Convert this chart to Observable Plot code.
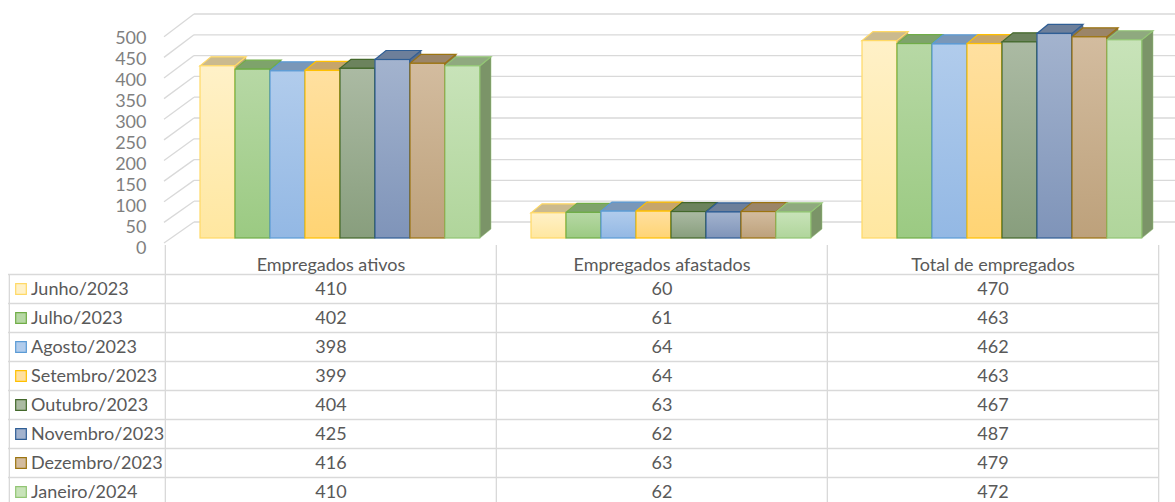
<!DOCTYPE html>
<html><head><meta charset="utf-8">
<script src="https://cdn.jsdelivr.net/npm/d3@7"></script>
<script src="https://cdn.jsdelivr.net/npm/@observablehq/plot@0.6"></script>
<style>
body{margin:0;background:#fff;}
#chart svg{display:block;}
#chart svg.tbl{margin-top:-12px;position:relative;}
</style></head><body><div id="chart"></div>
<script>
const categories = ["Empregados ativos", "Empregados afastados", "Total de empregados"];
const months = ["Junho/2023", "Julho/2023", "Agosto/2023", "Setembro/2023", "Outubro/2023", "Novembro/2023", "Dezembro/2023", "Janeiro/2024"];
const ativos = [410, 402, 398, 399, 404, 425, 416, 410];
const afastados = [60, 61, 64, 64, 63, 62, 63, 62];
const total = [470, 463, 462, 463, 467, 487, 479, 472];
const yTicks = [0, 50, 100, 150, 200, 250, 300, 350, 400, 450, 500];

const frontTop = ["#FFF1C8", "#B7D8A5", "#B1CCEC", "#FFE0A0", "#ABBAA3", "#A3B3CE", "#D3BC9F", "#C8E3B9"];
const frontBottom = ["#FFE7A0", "#9BCA82", "#93B8E4", "#FFD474", "#889E7D", "#7F94B9", "#BDA17B", "#B0D59B"];
const strokes = ["#FFD966", "#70AD47", "#5B9BD5", "#FFC000", "#43682B", "#2F5E95", "#9C7410", "#92C574"];
const topColors = ["#CBBA8E", "#7EA36B", "#7A97B8", "#C6A56B", "#6C835D", "#6D7F9A", "#9B8568", "#8FA97F"];
const sideColors = ["#B8A67A", "#6E915C", "#6A86A6", "#B3935C", "#5E7350", "#5E6F88", "#8A755A", "#7B9468"];

const series = [ativos, afastados, total];
const data = months.flatMap((m, i) => categories.map((c, g) => ({month: m, mi: i, category: c, value: series[g][i]})));

const SLOT = 35, LEAD = 35, DX = 11, DY = -9;
const bw = (1158 - 164) / 3;
const font = "Lato, 'Open Sans', sans-serif";

function wallsMark(index, scales) {
  const y = scales.y;
  const g = d3.create("svg:g");
  for (const v of yTicks) {
    const yb = y(v) - 16 + 0.004 * v;
    const yf = y(v) + 5 + 0.0075 * v;
    g.append("line").attr("x1", 164).attr("y1", yf).attr("x2", 194).attr("y2", yb)
      .attr("stroke", "#D9D9D9").attr("stroke-width", 1.3);
    g.append("line").attr("x1", 194).attr("y1", yb).attr("x2", 1175).attr("y2", yb)
      .attr("stroke", "#D9D9D9").attr("stroke-width", 1.3);
  }
  const defs = g.append("defs");
  months.forEach((m, i) => {
    const lg = defs.append("linearGradient").attr("id", "grad" + i)
      .attr("x1", 0).attr("y1", 0).attr("x2", 0).attr("y2", 1);
    lg.append("stop").attr("offset", "0%").attr("stop-color", frontTop[i]);
    lg.append("stop").attr("offset", "100%").attr("stop-color", frontBottom[i]);
  });
  return g.node();
}

function depthMark(index, scales) {
  const x = scales.x, y = scales.y;
  const g = d3.create("svg:g");
  for (const c of categories) {
    for (let i = 0; i < months.length; i++) {
      const d = data.find(e => e.category === c && e.mi === i);
      const x0 = x(c) + LEAD + SLOT * i, x1 = x0 + SLOT;
      const yt = y(d.value), yb = y(0);
      g.append("path")
        .attr("d", `M${x1},${yt}L${x1 + DX},${yt + DY}L${x1 + DX},${yb + DY}L${x1},${yb}Z`)
        .attr("fill", sideColors[i]).attr("stroke", strokes[i]).attr("stroke-width", 0.8).attr("stroke-opacity", 0.6);
      g.append("path")
        .attr("d", `M${x0},${yt}L${x1},${yt}L${x1 + DX},${yt + DY}L${x0 + DX},${yt + DY}Z`)
        .attr("fill", topColors[i]).attr("stroke", strokes[i]).attr("stroke-width", 1.2);
    }
  }
  return g.node();
}

const fronts = months.map((m, i) => Plot.barY(data.filter(d => d.mi === i), {
  x: "category", y: "value",
  fill: `url(#grad${i})`, stroke: strokes[i], strokeWidth: 1.2,
  insetLeft: LEAD + SLOT * i, insetRight: bw - LEAD - SLOT * (i + 1)
}));

const chart = Plot.plot({
  width: 1175, height: 257,
  marginLeft: 164, marginRight: 17, marginTop: 0, marginBottom: 12,
  style: {fontFamily: font, background: "#fff"},
  x: {type: "band", domain: categories, range: [164, 1158], padding: 0, axis: null},
  y: {domain: [0, 500], range: [238, 28], axis: null},
  marks: [
    wallsMark,
    depthMark,
    ...fronts,
    Plot.text(yTicks, {y: d => d, text: d => String(d), frameAnchor: "left", textAnchor: "end", dx: -18, dy: 9.5, fontSize: 18, fill: "#7F7F7F"})
  ]
});

const rows = ["header", ...months];
const tableData = months.flatMap((m, i) => categories.map((c, g) => ({month: m, category: c, value: series[g][i]})));

const table = Plot.plot({
  width: 1175, height: 257,
  marginLeft: 8, marginRight: 17, marginTop: 0, marginBottom: 0,
  style: {fontFamily: font, background: "transparent"},
  x: {type: "band", domain: categories, range: [164, 1158], padding: 0, axis: null},
  y: {type: "band", domain: rows, range: [0, 261], padding: 0, axis: null},
  marks: [
    Plot.ruleY(months, {y: d => d, dy: -14.5, stroke: "#D9D9D9", strokeWidth: 1.3}),
    Plot.ruleX(categories, {x: d => d, dx: -bw / 2, stroke: "#D9D9D9", strokeWidth: 1.3}),
    Plot.ruleX([categories[2]], {x: d => d, dx: bw / 2, stroke: "#D9D9D9", strokeWidth: 1.3}),
    Plot.ruleX([categories[0]], {x: d => d, dx: -bw / 2 - 156, insetTop: 29, stroke: "#D9D9D9", strokeWidth: 1.3}),
    Plot.text(categories, {x: d => d, y: () => "header", text: d => d, dy: 5, fontSize: 18, fill: "#595959"}),
    Plot.text(tableData, {x: "category", y: "month", text: d => String(d.value), fontSize: 18, fill: "#595959"}),
    Plot.dot(months, {y: d => d, frameAnchor: "left", dx: 12.5, symbol: "square", r: 6, fill: (d, i) => frontTop[i], stroke: (d, i) => strokes[i], strokeWidth: 1.2}),
    Plot.text(months, {y: d => d, text: d => d, frameAnchor: "left", dx: 22.5, textAnchor: "start", fontSize: 18, fill: "#595959"})
  ]
});
table.classList.add("tbl");

document.getElementById("chart").append(chart, table);
</script>
</body></html>
